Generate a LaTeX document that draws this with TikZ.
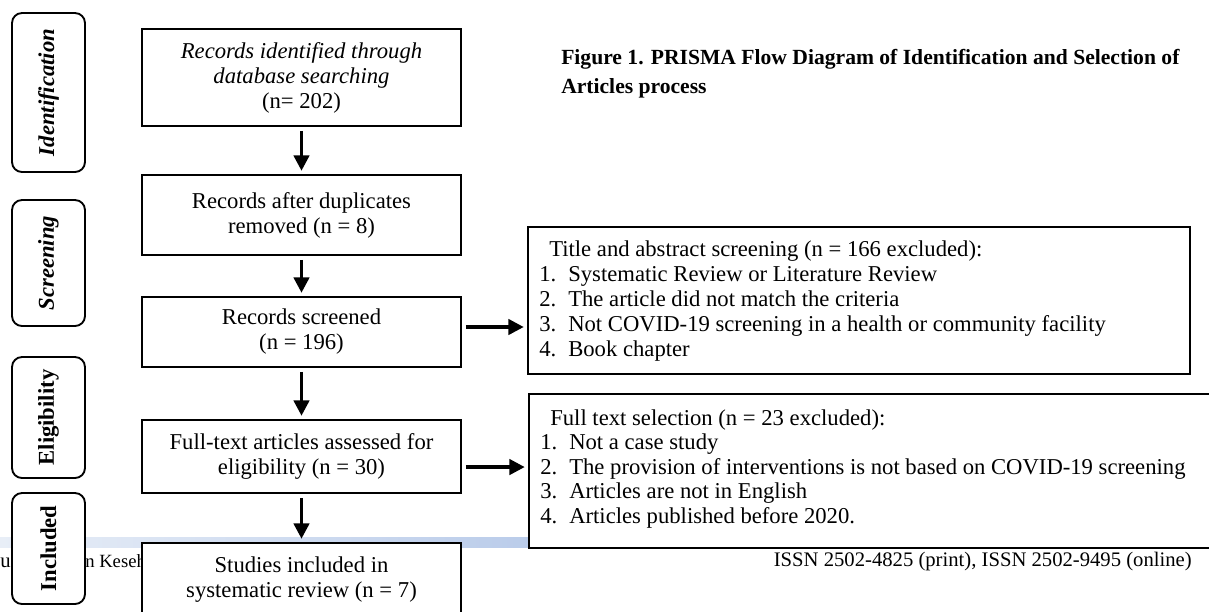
\documentclass[tikz,border=0pt]{standalone}
\usepackage{fontspec}
\setmainfont{Liberation Serif}
\usepackage{tikz}
\usetikzlibrary{positioning}
\usetikzlibrary{arrows.meta}
\usetikzlibrary{calc}

\definecolor{bandleft}{RGB}{232,238,247}
\definecolor{bandright}{RGB}{186,204,234}

\begin{document}
\begin{tikzpicture}[x=0.75pt,y=-0.75pt]
\tikzstyle{stage}=[draw,line width=1.4pt,rounded corners=7.5pt,fill=white,rotate=90,minimum height=54.75pt,inner sep=0pt,font=\fontsize{17}{20}\selectfont\bfseries]
\tikzstyle{flowbox}=[draw,line width=1.4pt,fill=white,minimum width=239.25pt,align=center,inner sep=0pt,font=\fontsize{17}{18.75}\selectfont]
\tikzstyle{exbox}=[draw,line width=1.4pt,fill=white,inner sep=0pt]
\tikzstyle{arr}=[line width=2.5pt,-{Triangle[length=11.5pt,width=11.5pt]},shorten <=3pt,shorten >=2.5pt]
\tikzstyle{txt}=[anchor=base west,inner sep=0pt,font=\fontsize{17}{18.75}\selectfont]
\tikzstyle{foot}=[anchor=base west,inner sep=0pt,font=\fontsize{15.5}{18}\selectfont]

\useasboundingbox (0,0) rectangle (1209,611);

% page footer behind the chart
\shade[left color=bandleft,right color=bandright] (0,537) rectangle (530,547);
\node[foot] (foot1) at (0,567) {u};
\node[foot,font=\fontsize{14}{18}\selectfont] (foot2) at (85,567) {n Kesehatan};
\node[foot,anchor=base east] (issn) at (1192,566) {ISSN 2502-4825 (print), ISSN 2502-9495 (online)};

% stages
\node[stage,minimum width=119.25pt] (sid) at (48.5,92.5) {\itshape Identification};
\node[stage,minimum width=94.5pt] (sscr) at (48.5,263) {\itshape Screening};
\node[stage,minimum width=90.75pt] (selig) at (48.5,417.5) {Eligibility};
\node[stage,minimum width=83.25pt] (sincl) at (48.5,548.5) {Included};

% flow
\node[flowbox,minimum height=72.75pt] (ident) at (301.5,77.5) {\textit{Records identified through}\\ \textit{database searching}\\ (n= 202)};
\node[flowbox,minimum height=60pt] (dupl) at (301.5,215) {Records after duplicates\\ removed (n = 8)};
\node[flowbox,minimum height=52.5pt] (scr) at (301.5,332) {Records screened\\ (n = 196)};
\node[flowbox,minimum height=54.75pt] (full) at (301.5,456.5) {Full-text articles assessed for\\ eligibility (n = 30)};
\node[flowbox,minimum height=54.75pt] (incl) at (301.5,579.5) {Studies included in\\ systematic review (n = 7)};

\draw[arr] (ident) -- (dupl);
\draw[arr] (dupl) -- (scr);
\draw[arr] (scr) -- (full);
\draw[arr] (full) -- (incl);

% exclusions
\node[exbox,minimum width=496.5pt,minimum height=110.25pt] (excl1) at (859,300.5) {};
\node[exbox,minimum width=518.25pt,minimum height=115.5pt] (excl2) at (874.5,471) {};

\draw[arr] ([yshift=3.75pt]scr.east) -- ([yshift=3.75pt]scr.east -| excl1.west);
\draw[arr] ([yshift=-7.9pt]full.east) -- ([yshift=-7.9pt]full.east -| excl2.west);

\node[txt] (ex1h) at (549,256) {Title and abstract screening (n = 166 excluded):};
\foreach \t [count=\i] in {Systematic Review or Literature Review,The article did not match the criteria,Not COVID-19 screening in a health or community facility,Book chapter}{
  \node[txt] (ex1n\i) at (539,256+25*\i) {\i.};
  \node[txt] (ex1i\i) at (568,256+25*\i) {\t};
}

\node[txt] (ex2h) at (550,425) {Full text selection (n = 23 excluded):};
\foreach \t [count=\i] in {Not a case study,The provision of interventions is not based on COVID-19 screening,Articles are not in English,Articles published before 2020.}{
  \node[txt] (ex2n\i) at (540,425+24.5*\i) {\i.};
  \node[txt] (ex2i\i) at (569,425+24.5*\i) {\t};
}

% caption
\node[anchor=base west,inner sep=0pt,font=\fontsize{16.2}{20}\selectfont\bfseries] (cap1) at (561,64) {Figure 1. PRISMA Flow Diagram of Identification and Selection of};
\node[anchor=base west,inner sep=0pt,font=\fontsize{16.2}{20}\selectfont\bfseries] (cap2) at (561,93) {Articles process};
\end{tikzpicture}
\end{document}
